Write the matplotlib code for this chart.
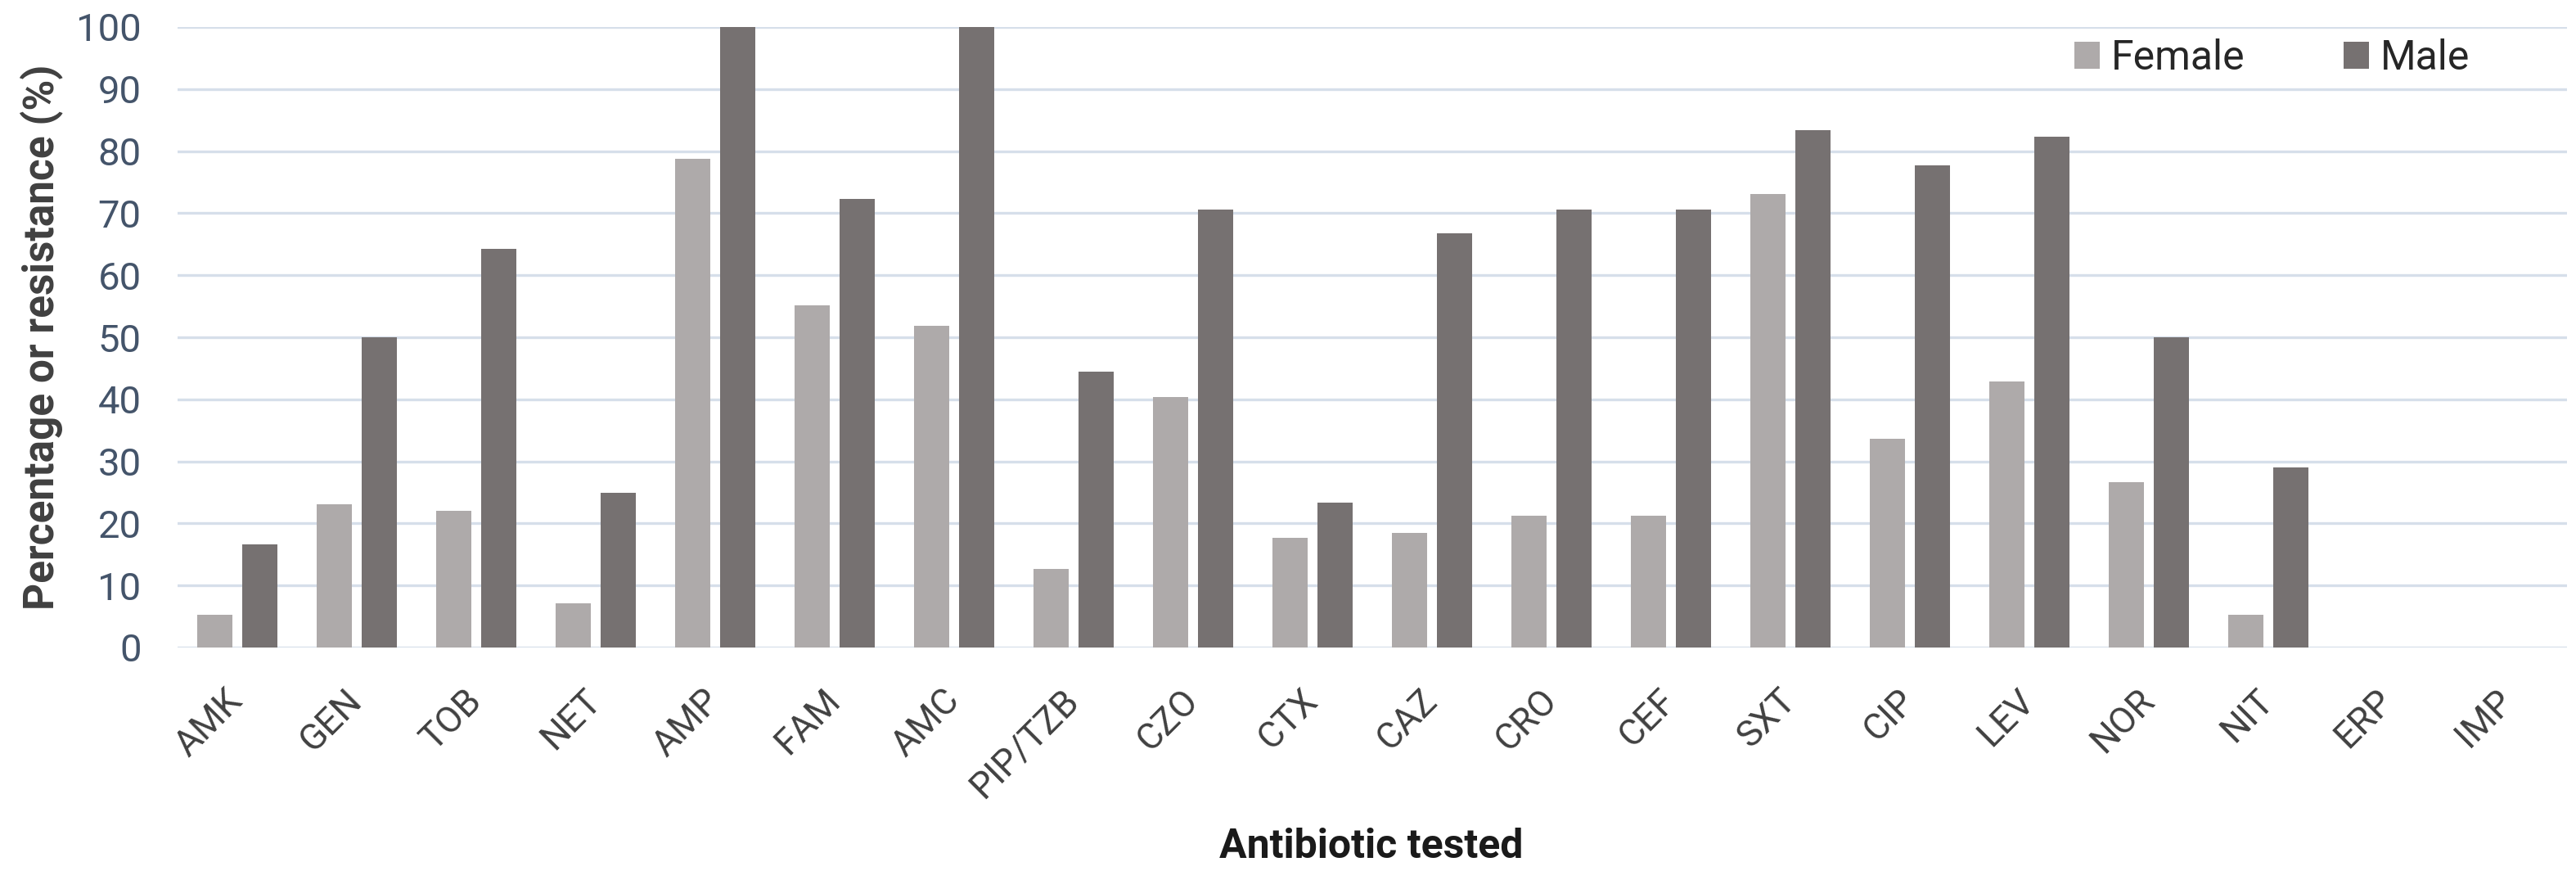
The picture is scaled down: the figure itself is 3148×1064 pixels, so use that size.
import matplotlib
matplotlib.use("Agg")
import matplotlib.pyplot as plt
import numpy as np
from matplotlib.patches import Patch

categories = ["AMK", "GEN", "TOB", "NET", "AMP", "FAM", "AMC", "PIP/TZB", "CZO", "CTX",
              "CAZ", "CRO", "CEF", "SXT", "CIP", "LEV", "NOR", "NIT", "ERP", "IMP"]
female = [5.3, 23.1, 22.0, 7.1, 78.7, 55.2, 51.8, 12.7, 40.4, 17.7,
          18.5, 21.3, 21.3, 73.1, 33.7, 42.9, 26.6, 5.3, 0, 0]
male = [16.6, 50.0, 64.2, 24.9, 100, 72.3, 100, 44.4, 70.6, 23.4,
        66.7, 70.6, 70.6, 83.4, 77.7, 82.3, 50.0, 29.0, 0, 0]
yticks = [0, 10, 20, 30, 40, 50, 60, 70, 80, 90, 100]
series_names = ["Female", "Male"]

FEMALE_C = "#AEAAAA"
MALE_C = "#767171"
FONT = ["Roboto", "DejaVu Sans"]
plt.rcParams["font.family"] = FONT

W, H = 3148, 1064
fig = plt.figure(figsize=(W / 100, H / 100), dpi=100)
ax = fig.add_axes([217 / W, 1 - 791 / H, (3137 - 217) / W, (791 - 33) / H])

x = np.arange(len(categories))
bw = 0.295
off = 0.19
ax.bar(x - off, female, width=bw, color=FEMALE_C, label=series_names[0], zorder=3)
ax.bar(x + off, male, width=bw, color=MALE_C, label=series_names[1], zorder=3)

ax.set_xlim(-0.5, len(categories) - 0.5)
ax.set_ylim(0, 100)
ax.set_yticks(yticks)
ax.set_yticklabels([str(v) for v in yticks])
ax.yaxis.grid(True, color="#D6DFEA", linewidth=2.4, zorder=0)
ax.set_axisbelow(True)
for s in ax.spines.values():
    s.set_visible(False)

ax.tick_params(axis="y", length=0, pad=32, labelsize=34, labelcolor="#44546A")
ax.set_xticks(x)
ax.set_xticklabels(categories, rotation=45, ha="right", va="center",
                   rotation_mode="anchor", fontsize=32, color="#404040")
ax.tick_params(axis="x", length=0, pad=42)

ax.set_ylabel("Percentage or resistance (%)", fontsize=37, fontweight="bold",
              color="#404040")
ax.yaxis.label.set_va("center")
ax.yaxis.set_label_coords((51 - 217) / 2920, 0.5)

fig.text(1676 / W, 1 - 1048 / H, "Antibiotic tested", ha="center", va="baseline",
         fontsize=36, fontweight="bold", color="#1A1A1A")

handles = [Patch(facecolor=FEMALE_C, edgecolor="none"),
           Patch(facecolor=MALE_C, edgecolor="none")]
leg = fig.legend(handles, series_names, loc="center left",
                 bbox_to_anchor=(2535 / W, 1 - 71 / H), bbox_transform=fig.transFigure,
                 ncol=2, frameon=False, fontsize=36, handlelength=0.62, handleheight=0.62,
                 handletextpad=0.28, columnspacing=2.4, borderpad=0, borderaxespad=0)
for t in leg.get_texts():
    t.set_color("#262626")

fig.savefig("out.png", dpi=100, facecolor="white")
